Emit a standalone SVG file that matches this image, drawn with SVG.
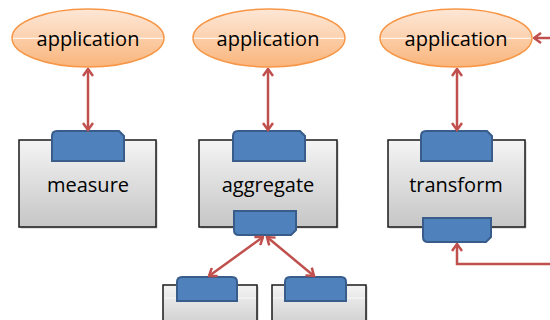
<svg xmlns="http://www.w3.org/2000/svg" width="550" height="320" viewBox="0 0 550 320">
  <defs>
    <linearGradient id="gEll" x1="0" y1="0" x2="0" y2="1">
      <stop offset="0" stop-color="#fde7d6"/>
      <stop offset="0.49" stop-color="#fcd2b0"/>
      <stop offset="0.495" stop-color="#fff3e8"/>
      <stop offset="0.515" stop-color="#fff3e8"/>
      <stop offset="0.52" stop-color="#fccca5"/>
      <stop offset="1" stop-color="#f9b57c"/>
    </linearGradient>
    <linearGradient id="gBox" x1="0" y1="0" x2="0" y2="1">
      <stop offset="0" stop-color="#f4f4f4"/>
      <stop offset="1" stop-color="#c6c6c6"/>
    </linearGradient>
    <marker id="ah" viewBox="0 0 10 12" refX="8.5" refY="6" markerWidth="10" markerHeight="12" markerUnits="userSpaceOnUse" orient="auto-start-reverse">
      <path d="M1.5,1 L8.5,6 L1.5,11" fill="none" stroke="#c0504d" stroke-width="2.5" stroke-linejoin="miter"/>
    </marker>
  </defs>
  <style>
    .ell { fill: url(#gEll); stroke: #f79646; stroke-width: 1.5; }
    .box { fill: url(#gBox); stroke: #1a1a1a; stroke-width: 1.5; }
    .shd { fill: #7f7f7f; opacity: 0.45; }
    .port { fill: #4f81bd; stroke: #385d8a; stroke-width: 2; }
    .lbl { font-family: "Open Sans", "Liberation Sans", sans-serif; font-size: 20px; fill: #000; text-anchor: middle; }
    .conn { fill: none; stroke: #c0504d; stroke-width: 2.5; }
    .gloss { stroke: #ffffff; stroke-width: 1; opacity: 0.8; }
  </style>

  <g id="app1">
    <ellipse class="ell" cx="88" cy="38" rx="76" ry="29"/>
    <text class="lbl" x="88" y="46">application</text>
  </g>
  <g id="app2">
    <ellipse class="ell" cx="269" cy="38" rx="76" ry="29"/>
    <text class="lbl" x="268" y="46">application</text>
  </g>
  <g id="app3">
    <ellipse class="ell" cx="456" cy="38" rx="76" ry="29"/>
    <text class="lbl" x="456" y="46">application</text>
  </g>

  <g id="measure">
    <rect class="shd" x="20.5" y="141.5" width="137" height="87"/>
    <rect class="box" x="19" y="140" width="137" height="87"/>
    <path class="port" d="M52,161 V136 Q52,131 57,131 H119 L124,136 V161 Z"/>
    <text class="lbl" x="88" y="192">measure</text>
  </g>

  <g id="aggregate">
    <rect class="shd" x="200.5" y="141.5" width="138" height="87"/>
    <rect class="box" x="199" y="140" width="138" height="87"/>
    <path class="port" d="M233,161 V136 Q233,131 238,131 H300 L305,136 V161 Z"/>
    <path class="port" d="M234,211 H296 V230 L291,235 H239 Q234,235 234,230 Z"/>
    <text class="lbl" x="268" y="192">aggregate</text>
  </g>

  <g id="transform">
    <rect class="shd" x="389.5" y="141.5" width="137" height="87"/>
    <rect class="box" x="388" y="140" width="137" height="87"/>
    <path class="port" d="M421,161 V136 Q421,131 426,131 H487 L492,136 V161 Z"/>
    <path class="port" d="M423,218 H491 V237 L486,242 H428 Q423,242 423,237 Z"/>
    <text class="lbl" x="456" y="192">transform</text>
  </g>

  <g id="child1">
    <rect class="shd" x="164.5" y="286.5" width="94" height="50"/>
    <rect class="box" x="163" y="285" width="94" height="50"/>
    <line class="gloss" x1="164" y1="298" x2="256" y2="298"/>
    <path class="port" d="M177,301 V282 Q177,277 182,277 H232 Q237,277 237,282 V301 Z"/>
  </g>

  <g id="child2">
    <rect class="shd" x="273.5" y="286.5" width="94" height="50"/>
    <rect class="box" x="272" y="285" width="94" height="50"/>
    <line class="gloss" x1="273" y1="298" x2="365" y2="298"/>
    <path class="port" d="M285,301 V282 Q285,277 290,277 H341 Q346,277 346,282 V301 Z"/>
  </g>

  <g id="connectors">
    <line class="conn" x1="88" y1="69" x2="88" y2="130" marker-start="url(#ah)" marker-end="url(#ah)"/>
    <line class="conn" x1="268" y1="69" x2="268" y2="130" marker-start="url(#ah)" marker-end="url(#ah)"/>
    <line class="conn" x1="457" y1="69" x2="457" y2="130" marker-start="url(#ah)" marker-end="url(#ah)"/>
    <line class="conn" x1="263" y1="237" x2="209" y2="276" marker-start="url(#ah)" marker-end="url(#ah)"/>
    <line class="conn" x1="267" y1="237" x2="314" y2="276" marker-start="url(#ah)" marker-end="url(#ah)"/>
    <polyline class="conn" points="552,264 457,264 457,244" marker-end="url(#ah)"/>
    <line class="conn" x1="552" y1="38" x2="534" y2="38" marker-end="url(#ah)"/>
  </g>
</svg>
